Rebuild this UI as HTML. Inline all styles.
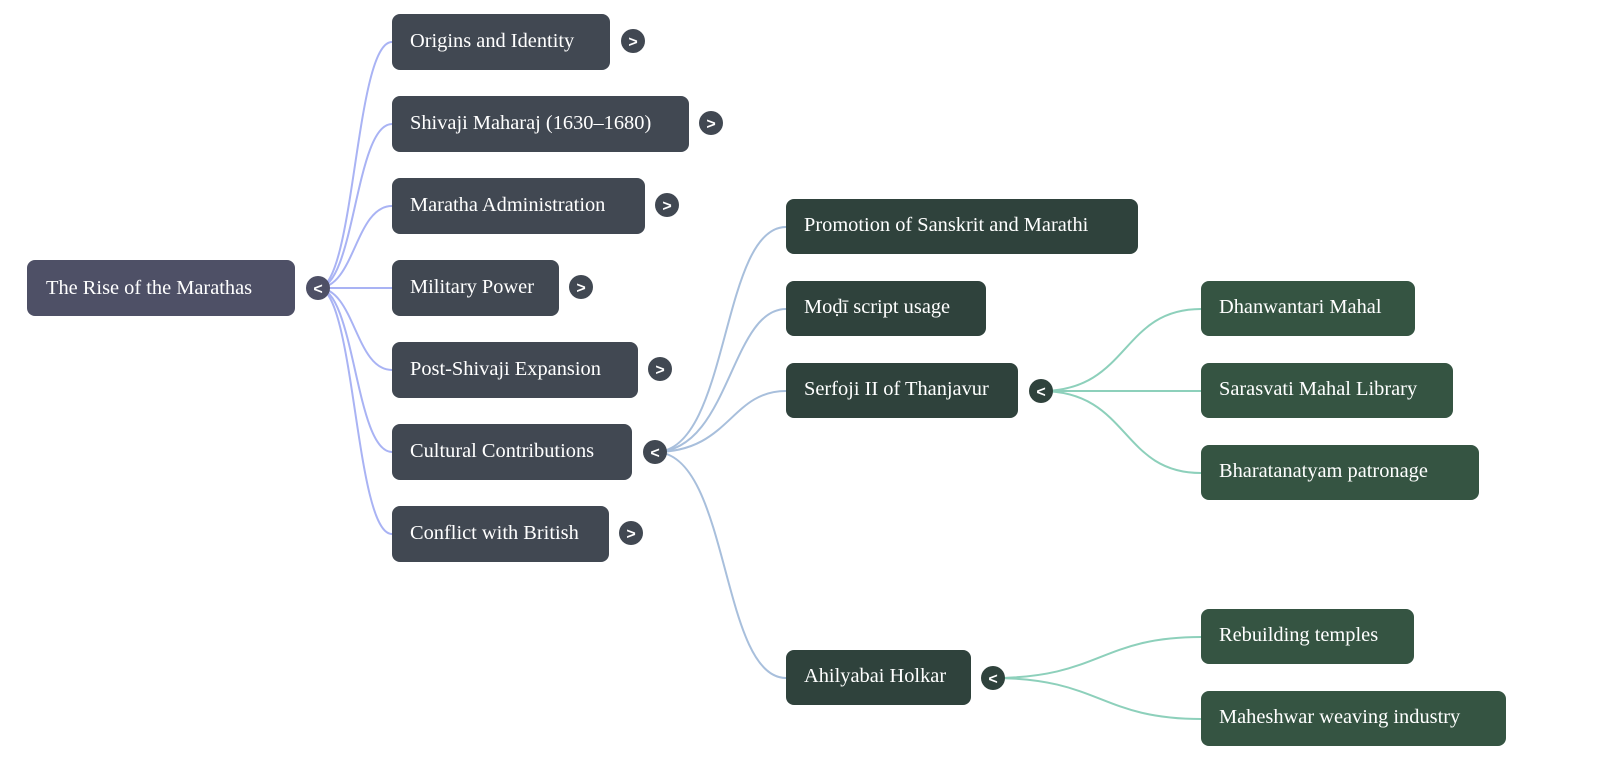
<!DOCTYPE html>
<html><head><meta charset="utf-8"><style>
html,body{margin:0;padding:0;background:#fff;width:1600px;height:775px;overflow:hidden}
svg text{font-family:"Liberation Serif",serif;font-size:20.4px;fill:#fff}
svg text.t{font-family:"Liberation Sans",sans-serif;font-size:16px;font-weight:bold;text-anchor:middle}
</style></head><body>
<svg width="1600" height="775" xmlns="http://www.w3.org/2000/svg">
<g fill="none" stroke-width="2">
<g stroke="#a9b3f4">
<path d="M318,288 C355,288 355,42 392,42"/>
<path d="M318,288 C355,288 355,124 392,124"/>
<path d="M318,288 C355,288 355,206 392,206"/>
<path d="M318,288 L392,288"/>
<path d="M318,288 C355,288 355,370 392,370"/>
<path d="M318,288 C355,288 355,452 392,452"/>
<path d="M318,288 C355,288 355,534 392,534"/>
</g>
<g stroke="#a8bfdc">
<path d="M655,452 C730,452 720,227 786,227"/>
<path d="M655,452 C730,452 730,309 786,309"/>
<path d="M655,452 C730,452 730,391 786,391"/>
<path d="M655,452 C730,452 720,678 786,678"/>
</g>
<g stroke="#8dd0bb">
<path d="M1041,391 C1130,391 1120,309 1201,309"/>
<path d="M1041,391 L1201,391"/>
<path d="M1041,391 C1130,391 1120,473 1201,473"/>
<path d="M993,678 C1100,678 1100,637 1201,637"/>
<path d="M993,678 C1100,678 1100,719 1201,719"/>
</g>
</g>
<rect x="27" y="260" width="268" height="56" rx="8" fill="#4e5066"/>
<text x="46" y="294">The Rise of the Marathas</text>
<g fill="#414852">
<rect x="392" y="14" width="218" height="56" rx="8"/>
<rect x="392" y="96" width="297" height="56" rx="8"/>
<rect x="392" y="178" width="253" height="56" rx="8"/>
<rect x="392" y="260" width="167" height="56" rx="8"/>
<rect x="392" y="342" width="246" height="56" rx="8"/>
<rect x="392" y="424" width="240" height="56" rx="8"/>
<rect x="392" y="506" width="217" height="56" rx="8"/>
</g>
<text x="410" y="47">Origins and Identity</text>
<text x="410" y="129">Shivaji Maharaj (1630–1680)</text>
<text x="410" y="211">Maratha Administration</text>
<text x="410" y="293">Military Power</text>
<text x="410" y="375">Post-Shivaji Expansion</text>
<text x="410" y="457">Cultural Contributions</text>
<text x="410" y="539">Conflict with British</text>
<g fill="#2f423c">
<rect x="786" y="199" width="352" height="55" rx="8"/>
<rect x="786" y="281" width="200" height="55" rx="8"/>
<rect x="786" y="363" width="232" height="55" rx="8"/>
<rect x="786" y="650" width="185" height="55" rx="8"/>
</g>
<text x="804" y="231">Promotion of Sanskrit and Marathi</text>
<text x="804" y="313">Moḍī script usage</text>
<text x="804" y="395">Serfoji II of Thanjavur</text>
<text x="804" y="682">Ahilyabai Holkar</text>
<g fill="#355442">
<rect x="1201" y="281" width="214" height="55" rx="8"/>
<rect x="1201" y="363" width="252" height="55" rx="8"/>
<rect x="1201" y="445" width="278" height="55" rx="8"/>
<rect x="1201" y="609" width="213" height="55" rx="8"/>
<rect x="1201" y="691" width="305" height="55" rx="8"/>
</g>
<text x="1219" y="313">Dhanwantari Mahal</text>
<text x="1219" y="395">Sarasvati Mahal Library</text>
<text x="1219" y="477">Bharatanatyam patronage</text>
<text x="1219" y="641">Rebuilding temples</text>
<text x="1219" y="723">Maheshwar weaving industry</text>
<circle cx="318" cy="288" r="12" fill="#4e5066"/><text class="t" x="318" y="294">&lt;</text>
<circle cx="633" cy="41" r="12" fill="#414852"/><text class="t" x="633" y="47">&gt;</text>
<circle cx="711" cy="123" r="12" fill="#414852"/><text class="t" x="711" y="129">&gt;</text>
<circle cx="667" cy="205" r="12" fill="#414852"/><text class="t" x="667" y="211">&gt;</text>
<circle cx="581" cy="287" r="12" fill="#414852"/><text class="t" x="581" y="293">&gt;</text>
<circle cx="660" cy="369" r="12" fill="#414852"/><text class="t" x="660" y="375">&gt;</text>
<circle cx="655" cy="452" r="12" fill="#414852"/><text class="t" x="655" y="458">&lt;</text>
<circle cx="631" cy="533" r="12" fill="#414852"/><text class="t" x="631" y="539">&gt;</text>
<circle cx="1041" cy="391" r="12" fill="#2f423c"/><text class="t" x="1041" y="397">&lt;</text>
<circle cx="993" cy="678" r="12" fill="#2f423c"/><text class="t" x="993" y="684">&lt;</text>
</svg>
</body></html>
